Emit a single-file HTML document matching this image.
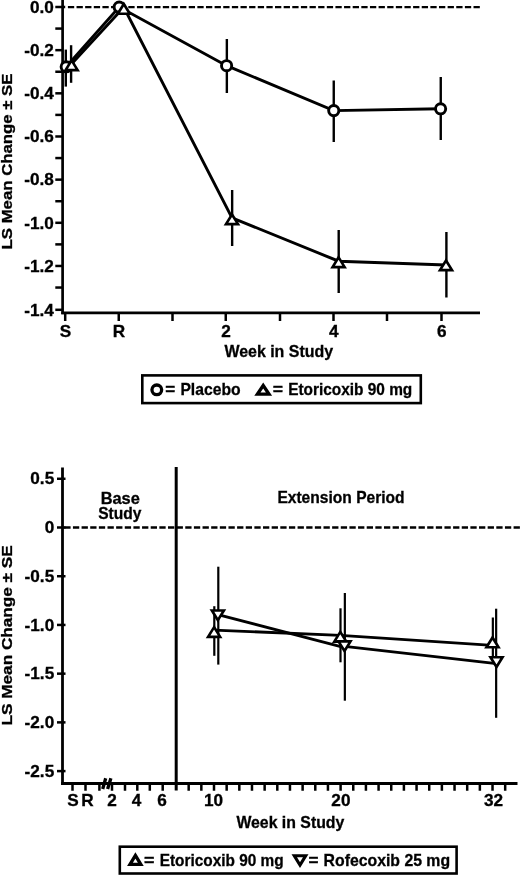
<!DOCTYPE html><html><head><meta charset="utf-8"><title>Figure</title>
<style>html,body{margin:0;padding:0;background:#fff}svg{display:block}text{font-family:"Liberation Sans",Arial,sans-serif;font-size:16.3px;font-weight:bold;fill:#000;stroke:#000;stroke-width:0.3px}.ln{stroke:#000;fill:none}.mk{stroke:#000;fill:#fff}</style></head><body>
<svg width="520" height="876" viewBox="0 0 520 876">
<rect width="520" height="876" fill="#fff"/>
<line class="ln" x1="62.6" y1="0" x2="62.6" y2="314.25" stroke-width="2.7"/>
<line class="ln" x1="61.25" y1="312.9" x2="480" y2="312.9" stroke-width="2.7"/>
<line class="ln" x1="55.3" y1="7.00" x2="65.2" y2="7.00" stroke-width="2.5"/>
<text transform="translate(53.8,12.7) scale(1.055,1)" text-anchor="end">0.0</text>
<line class="ln" x1="55.3" y1="28.58" x2="62.6" y2="28.58" stroke-width="2.5"/>
<line class="ln" x1="55.3" y1="50.16" x2="62.6" y2="50.16" stroke-width="2.5"/>
<text transform="translate(53.8,55.86) scale(1.055,1)" text-anchor="end">-0.2</text>
<line class="ln" x1="55.3" y1="71.74" x2="62.6" y2="71.74" stroke-width="2.5"/>
<line class="ln" x1="55.3" y1="93.32" x2="62.6" y2="93.32" stroke-width="2.5"/>
<text transform="translate(53.8,99.02) scale(1.055,1)" text-anchor="end">-0.4</text>
<line class="ln" x1="55.3" y1="114.90" x2="62.6" y2="114.90" stroke-width="2.5"/>
<line class="ln" x1="55.3" y1="136.48" x2="62.6" y2="136.48" stroke-width="2.5"/>
<text transform="translate(53.8,142.18) scale(1.055,1)" text-anchor="end">-0.6</text>
<line class="ln" x1="55.3" y1="158.06" x2="62.6" y2="158.06" stroke-width="2.5"/>
<line class="ln" x1="55.3" y1="179.64" x2="62.6" y2="179.64" stroke-width="2.5"/>
<text transform="translate(53.8,185.34) scale(1.055,1)" text-anchor="end">-0.8</text>
<line class="ln" x1="55.3" y1="201.22" x2="62.6" y2="201.22" stroke-width="2.5"/>
<line class="ln" x1="55.3" y1="222.80" x2="62.6" y2="222.80" stroke-width="2.5"/>
<text transform="translate(53.8,228.5) scale(1.055,1)" text-anchor="end">-1.0</text>
<line class="ln" x1="55.3" y1="244.38" x2="62.6" y2="244.38" stroke-width="2.5"/>
<line class="ln" x1="55.3" y1="265.96" x2="62.6" y2="265.96" stroke-width="2.5"/>
<text transform="translate(53.8,271.66) scale(1.055,1)" text-anchor="end">-1.2</text>
<line class="ln" x1="55.3" y1="287.54" x2="62.6" y2="287.54" stroke-width="2.5"/>
<line class="ln" x1="55.3" y1="309.80" x2="62.6" y2="309.80" stroke-width="2.5"/>
<text transform="translate(53.8,315.5) scale(1.055,1)" text-anchor="end">-1.4</text>
<line class="ln" x1="67.9" y1="7.1" x2="480.5" y2="7.1" stroke-width="2.3" stroke-dasharray="6.3 2.33"/>
<line class="ln" x1="65.2" y1="312.9" x2="65.2" y2="321" stroke-width="2.5"/>
<text transform="translate(65.5,337.2) scale(1.055,1)" text-anchor="middle">S</text>
<line class="ln" x1="118.75" y1="312.9" x2="118.75" y2="321" stroke-width="2.5"/>
<text transform="translate(119.05,337.2) scale(1.055,1)" text-anchor="middle">R</text>
<line class="ln" x1="172.5" y1="312.9" x2="172.5" y2="321" stroke-width="2.5"/>
<line class="ln" x1="225.75" y1="312.9" x2="225.75" y2="321" stroke-width="2.5"/>
<text transform="translate(226.05,337.2) scale(1.055,1)" text-anchor="middle">2</text>
<line class="ln" x1="280" y1="312.9" x2="280" y2="321" stroke-width="2.5"/>
<line class="ln" x1="333.5" y1="312.9" x2="333.5" y2="321" stroke-width="2.5"/>
<text transform="translate(333.8,337.2) scale(1.055,1)" text-anchor="middle">4</text>
<line class="ln" x1="387" y1="312.9" x2="387" y2="321" stroke-width="2.5"/>
<line class="ln" x1="441.5" y1="312.9" x2="441.5" y2="321" stroke-width="2.5"/>
<text transform="translate(441.8,337.2) scale(1.055,1)" text-anchor="middle">6</text>
<text x="224.40" y="357" textLength="108.70" lengthAdjust="spacingAndGlyphs">Week in Study</text>
<text transform="translate(12.0,249.4) rotate(-90)" textLength="175.8" lengthAdjust="spacingAndGlyphs" style="font-size:14.6px">LS Mean Change ± SE</text>
<line class="ln" x1="65.8" y1="49.6" x2="65.8" y2="86.6" stroke-width="2.4"/>
<line class="ln" x1="226.85" y1="39" x2="226.85" y2="93" stroke-width="2.4"/>
<line class="ln" x1="333.75" y1="80.5" x2="333.75" y2="142" stroke-width="2.4"/>
<line class="ln" x1="440.75" y1="77" x2="440.75" y2="140" stroke-width="2.4"/>
<line class="ln" x1="71.1" y1="45.2" x2="71.1" y2="82.8" stroke-width="2.4"/>
<line class="ln" x1="232.15" y1="190" x2="232.15" y2="246" stroke-width="2.4"/>
<line class="ln" x1="338.7" y1="230" x2="338.7" y2="293" stroke-width="2.4"/>
<line class="ln" x1="446.4" y1="232" x2="446.4" y2="297.5" stroke-width="2.4"/>
<polyline class="ln" stroke-width="2.9" points="66.2,66.8 119.2,7.1 226.6,65.7 333.75,110.6 440.6,108.8"/>
<polyline class="ln" stroke-width="2.9" points="71.5,63.9 123.8,7.3 232,217.8 338.7,261.2 446.2,265"/>
<circle class="mk" cx="66.2" cy="66.8" r="5.1" stroke-width="2.9"/>
<circle class="mk" cx="119.2" cy="7.1" r="5.1" stroke-width="2.9"/>
<circle class="mk" cx="226.6" cy="65.7" r="5.1" stroke-width="2.9"/>
<circle class="mk" cx="333.75" cy="110.6" r="5.1" stroke-width="2.9"/>
<circle class="mk" cx="440.6" cy="108.8" r="5.1" stroke-width="2.9"/>
<polygon class="mk" stroke-width="2.65" stroke-linejoin="miter" points="71.6,60.35 77.60,70.05 65.60,70.05"/>
<polygon class="mk" stroke-width="2.65" stroke-linejoin="miter" points="123.8,4.05 129.80,13.75 117.80,13.75"/>
<polygon class="mk" stroke-width="2.65" stroke-linejoin="miter" points="232,214.45 238.00,224.15 226.00,224.15"/>
<polygon class="mk" stroke-width="2.65" stroke-linejoin="miter" points="338.6,257.35 344.60,267.05 332.60,267.05"/>
<polygon class="mk" stroke-width="2.65" stroke-linejoin="miter" points="446,260.45 452.00,270.15 440.00,270.15"/>
<rect class="ln" x="142.3" y="375.4" width="278.5" height="27.7" stroke-width="2.6"/>
<circle class="ln" cx="156.8" cy="389.85" r="4.85" stroke-width="3.3"/>
<text x="165.20" y="395.1" textLength="10.00" lengthAdjust="spacingAndGlyphs">=</text>
<text x="180.40" y="395.1" textLength="60.20" lengthAdjust="spacingAndGlyphs">Placebo</text>
<polygon class="ln" stroke-width="3.3" stroke-linejoin="miter" points="263.2,385.53 269.00,394.07 257.40,394.07"/>
<text x="272.80" y="395.1" textLength="10.30" lengthAdjust="spacingAndGlyphs">=</text>
<text x="288.15" y="395.1" textLength="124.15" lengthAdjust="spacingAndGlyphs">Etoricoxib 90 mg</text>
<line class="ln" x1="62.5" y1="467.5" x2="62.5" y2="784.9" stroke-width="2.8"/>
<line class="ln" x1="61.1" y1="783.5" x2="517.5" y2="783.5" stroke-width="2.8"/>
<line class="ln" x1="176.2" y1="467" x2="176.2" y2="790.5" stroke-width="3"/>
<line class="ln" x1="57" y1="478.78" x2="65.5" y2="478.78" stroke-width="2.5"/>
<text transform="translate(54.2,484.48) scale(1.055,1)" text-anchor="end">0.5</text>
<line class="ln" x1="57" y1="527.50" x2="65.5" y2="527.50" stroke-width="2.5"/>
<text transform="translate(54.2,533.2) scale(1.055,1)" text-anchor="end">0</text>
<line class="ln" x1="57" y1="576.22" x2="65.5" y2="576.22" stroke-width="2.5"/>
<text transform="translate(54.2,581.92) scale(1.055,1)" text-anchor="end">-0.5</text>
<line class="ln" x1="57" y1="624.94" x2="65.5" y2="624.94" stroke-width="2.5"/>
<text transform="translate(54.2,630.64) scale(1.055,1)" text-anchor="end">-1.0</text>
<line class="ln" x1="57" y1="673.66" x2="65.5" y2="673.66" stroke-width="2.5"/>
<text transform="translate(54.2,679.36) scale(1.055,1)" text-anchor="end">-1.5</text>
<line class="ln" x1="57" y1="722.38" x2="65.5" y2="722.38" stroke-width="2.5"/>
<text transform="translate(54.2,728.08) scale(1.055,1)" text-anchor="end">-2.0</text>
<line class="ln" x1="57" y1="771.10" x2="65.5" y2="771.10" stroke-width="2.5"/>
<text transform="translate(54.2,776.8) scale(1.055,1)" text-anchor="end">-2.5</text>
<line class="ln" x1="64.3" y1="527.5" x2="520" y2="527.5" stroke-width="2.3" stroke-dasharray="6.3 2.34"/>
<line class="ln" x1="72.5" y1="783.5" x2="72.5" y2="790.75" stroke-width="2.5"/>
<line class="ln" x1="85.5" y1="783.5" x2="85.5" y2="790.75" stroke-width="2.5"/>
<line class="ln" x1="99.4" y1="783.5" x2="99.4" y2="790.75" stroke-width="2.5"/>
<line class="ln" x1="112" y1="783.5" x2="112" y2="790.75" stroke-width="2.5"/>
<line class="ln" x1="125" y1="783.5" x2="125" y2="790.75" stroke-width="2.5"/>
<line class="ln" x1="137.3" y1="783.5" x2="137.3" y2="790.75" stroke-width="2.5"/>
<line class="ln" x1="149.8" y1="783.5" x2="149.8" y2="790.75" stroke-width="2.5"/>
<line class="ln" x1="162.7" y1="783.5" x2="162.7" y2="790.75" stroke-width="2.5"/>
<line class="ln" x1="188.68" y1="783.5" x2="188.68" y2="790.75" stroke-width="2.5"/>
<line class="ln" x1="201.34" y1="783.5" x2="201.34" y2="790.75" stroke-width="2.5"/>
<line class="ln" x1="214.00" y1="783.5" x2="214.00" y2="790.75" stroke-width="2.5"/>
<line class="ln" x1="226.66" y1="783.5" x2="226.66" y2="790.75" stroke-width="2.5"/>
<line class="ln" x1="239.32" y1="783.5" x2="239.32" y2="790.75" stroke-width="2.5"/>
<line class="ln" x1="251.98" y1="783.5" x2="251.98" y2="790.75" stroke-width="2.5"/>
<line class="ln" x1="264.64" y1="783.5" x2="264.64" y2="790.75" stroke-width="2.5"/>
<line class="ln" x1="277.30" y1="783.5" x2="277.30" y2="790.75" stroke-width="2.5"/>
<line class="ln" x1="289.96" y1="783.5" x2="289.96" y2="790.75" stroke-width="2.5"/>
<line class="ln" x1="302.62" y1="783.5" x2="302.62" y2="790.75" stroke-width="2.5"/>
<line class="ln" x1="315.28" y1="783.5" x2="315.28" y2="790.75" stroke-width="2.5"/>
<line class="ln" x1="327.94" y1="783.5" x2="327.94" y2="790.75" stroke-width="2.5"/>
<line class="ln" x1="340.60" y1="783.5" x2="340.60" y2="790.75" stroke-width="2.5"/>
<line class="ln" x1="353.26" y1="783.5" x2="353.26" y2="790.75" stroke-width="2.5"/>
<line class="ln" x1="365.92" y1="783.5" x2="365.92" y2="790.75" stroke-width="2.5"/>
<line class="ln" x1="378.58" y1="783.5" x2="378.58" y2="790.75" stroke-width="2.5"/>
<line class="ln" x1="391.24" y1="783.5" x2="391.24" y2="790.75" stroke-width="2.5"/>
<line class="ln" x1="403.90" y1="783.5" x2="403.90" y2="790.75" stroke-width="2.5"/>
<line class="ln" x1="416.56" y1="783.5" x2="416.56" y2="790.75" stroke-width="2.5"/>
<line class="ln" x1="429.22" y1="783.5" x2="429.22" y2="790.75" stroke-width="2.5"/>
<line class="ln" x1="441.88" y1="783.5" x2="441.88" y2="790.75" stroke-width="2.5"/>
<line class="ln" x1="454.54" y1="783.5" x2="454.54" y2="790.75" stroke-width="2.5"/>
<line class="ln" x1="467.20" y1="783.5" x2="467.20" y2="790.75" stroke-width="2.5"/>
<line class="ln" x1="479.86" y1="783.5" x2="479.86" y2="790.75" stroke-width="2.5"/>
<line class="ln" x1="492.52" y1="783.5" x2="492.52" y2="790.75" stroke-width="2.5"/>
<line class="ln" x1="505.18" y1="783.5" x2="505.18" y2="790.75" stroke-width="2.5"/>
<line class="ln" x1="105.7" y1="778.3" x2="102.7" y2="789" stroke-width="3.3"/>
<line class="ln" x1="110.9" y1="778.3" x2="107.6" y2="789" stroke-width="3.3"/>
<text transform="translate(73.1,805.8) scale(1.055,1)" text-anchor="middle">S</text>
<text transform="translate(87.5,805.8) scale(1.055,1)" text-anchor="middle">R</text>
<text transform="translate(112,805.8) scale(1.055,1)" text-anchor="middle">2</text>
<text transform="translate(136.5,805.8) scale(1.055,1)" text-anchor="middle">4</text>
<text transform="translate(162,805.8) scale(1.055,1)" text-anchor="middle">6</text>
<text transform="translate(213.5,805.8) scale(1.055,1)" text-anchor="middle">10</text>
<text transform="translate(340.9,805.8) scale(1.055,1)" text-anchor="middle">20</text>
<text transform="translate(493.5,805.8) scale(1.055,1)" text-anchor="middle">32</text>
<text x="236.40" y="828" textLength="107.95" lengthAdjust="spacingAndGlyphs">Week in Study</text>
<text transform="translate(12.0,725.4) rotate(-90)" textLength="180" lengthAdjust="spacingAndGlyphs" style="font-size:14.6px">LS Mean Change ± SE</text>
<text x="100.65" y="503.7" textLength="39.20" lengthAdjust="spacingAndGlyphs">Base</text>
<text x="98.15" y="518.7" textLength="43.20" lengthAdjust="spacingAndGlyphs">Study</text>
<text x="277.40" y="503.3" textLength="127.20" lengthAdjust="spacingAndGlyphs">Extension Period</text>
<line class="ln" x1="214.3" y1="606.2" x2="214.3" y2="655.8" stroke-width="2.2"/>
<line class="ln" x1="340.5" y1="608.3" x2="340.5" y2="662.3" stroke-width="2.2"/>
<line class="ln" x1="492.85" y1="617.5" x2="492.85" y2="657" stroke-width="2.2"/>
<line class="ln" x1="218.3" y1="566.7" x2="218.3" y2="664.6" stroke-width="2.2"/>
<line class="ln" x1="344.85" y1="593" x2="344.85" y2="700.7" stroke-width="2.2"/>
<line class="ln" x1="496.15" y1="608.7" x2="496.15" y2="717.8" stroke-width="2.2"/>
<polyline class="ln" stroke-width="2.9" points="214.1,630.1 340.4,635.4 492.5,645.4"/>
<line class="ln" stroke-width="2.9" x1="217.9" y1="614.7" x2="344.6" y2="647.6"/>
<line class="ln" stroke-width="2.9" x1="344.6" y1="646.4" x2="496.5" y2="663.6"/>
<polygon class="mk" stroke-width="2.65" stroke-linejoin="miter" points="214.1,627.15 220.10,636.85 208.10,636.85"/>
<polygon class="mk" stroke-width="2.65" stroke-linejoin="miter" points="340.3,631.90 346.30,641.60 334.30,641.60"/>
<polygon class="mk" stroke-width="2.65" stroke-linejoin="miter" points="492.5,637.55 498.50,647.25 486.50,647.25"/>
<polygon class="mk" stroke-width="2.65" stroke-linejoin="miter" points="217.9,620.15 223.90,610.45 211.90,610.45"/>
<polygon class="mk" stroke-width="2.65" stroke-linejoin="miter" points="344.5,651.05 350.50,641.35 338.50,641.35"/>
<polygon class="mk" stroke-width="2.65" stroke-linejoin="miter" points="496.5,666.95 502.50,657.25 490.50,657.25"/>
<rect class="ln" x="119.8" y="846.7" width="336.8" height="26.8" stroke-width="2.6"/>
<polygon class="ln" stroke-width="3.3" stroke-linejoin="miter" points="135.4,855.40 140.80,864.30 130.00,864.30"/>
<text x="144.00" y="865.6" textLength="10.45" lengthAdjust="spacingAndGlyphs">=</text>
<text x="159.70" y="865.6" textLength="123.90" lengthAdjust="spacingAndGlyphs">Etoricoxib 90 mg</text>
<polygon class="ln" stroke-width="3.0" stroke-linejoin="miter" points="300,865.15 305.80,855.65 294.20,855.65"/>
<text x="308.60" y="865.6" textLength="10.00" lengthAdjust="spacingAndGlyphs">=</text>
<text x="323.60" y="865.6" textLength="126.50" lengthAdjust="spacingAndGlyphs">Rofecoxib 25 mg</text>
</svg></body></html>
